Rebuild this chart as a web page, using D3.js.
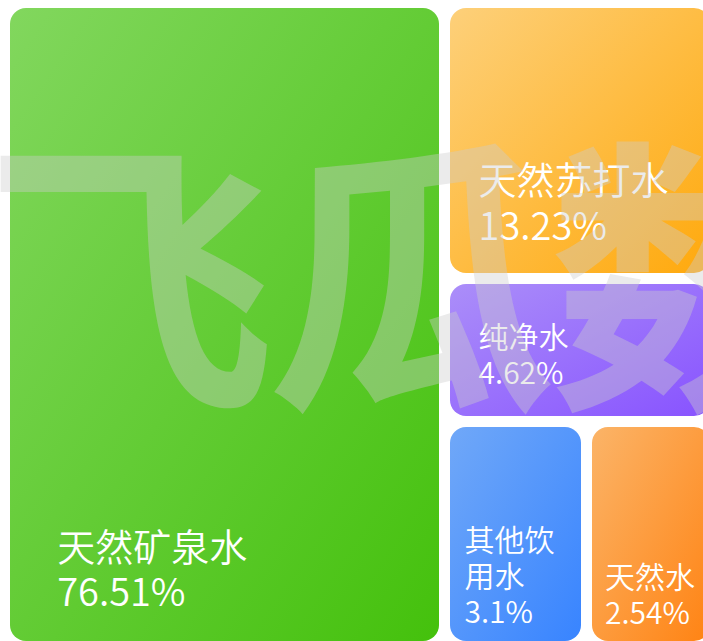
<!DOCTYPE html>
<html>
<head>
<meta charset="utf-8">
<script src="https://cdn.jsdelivr.net/npm/d3@7/dist/d3.min.js"></script>
<style>
  html, body { margin: 0; padding: 0; background: #fff; overflow: hidden; }
  svg { display: block; }
</style>
</head>
<body>
<div id="chart"></div>
<script>
// share of each drinking water type
const categories = ["天然矿泉水", "天然苏打水", "纯净水", "其他饮用水", "天然水"];
const shares = [76.51, 13.23, 4.62, 3.1, 2.54];
const colorFrom = ["#82d75e", "#fdd07a", "#ab8ef9", "#70a8f8", "#fbb468"];
const colorTo = ["#44c10c", "#ffa90c", "#8853ff", "#3884ff", "#ff8313"];
const watermark = "飞瓜数据";

const width = 703, height = 641;
const marginLeft = 10, marginTop = 8;
const mapW = 700, mapH = 633;

const svg = d3.select("#chart").append("svg")
    .attr("width", width)
    .attr("height", height);

const defs = svg.append("defs");

var data = categories.map((name, i) => ({name: name, value: shares[i], i: i}));

// tile area is compressed a bit so the small tiles stay readable
const areaScale = d3.scalePow().exponent(0.85).domain([0, 100]).range([2.1, 52.2]);

const root = d3.hierarchy({children: data})
    .sum(d => d.value === undefined ? 0 : areaScale(d.value));

d3.treemap()
    .tile(d3.treemapBinary)
    .size([mapW, mapH])
    .paddingInner(11)
    .round(true)(root);

data.forEach((d, i) => {
    const g = defs.append("linearGradient")
        .attr("id", "grad" + i)
        .attr("x1", 0).attr("y1", 0)
        .attr("x2", 1).attr("y2", 1);
    g.append("stop").attr("offset", "0%").attr("stop-color", colorFrom[i]);
    g.append("stop").attr("offset", "100%").attr("stop-color", colorTo[i]);
});

const cells = svg.append("g")
    .attr("transform", `translate(${marginLeft},${marginTop})`)
    .selectAll("g")
    .data(root.leaves())
    .enter().append("g")
    .attr("transform", d => `translate(${d.x0},${d.y0})`);

cells.append("rect")
    .attr("width", d => d.x1 - d.x0)
    .attr("height", d => d.y1 - d.y0)
    .attr("rx", 16)
    .attr("ry", 16)
    .attr("fill", d => `url(#grad${d.data.i})`);

// split a name into lines that fit the tile
function wrapName(name, maxWidth, fontSize) {
    const perLine = Math.max(1, Math.floor(maxWidth / fontSize));
    const lines = [];
    for (let k = 0; k < name.length; k += perLine) {
        lines.push(name.slice(k, k + perLine));
    }
    return lines;
}

cells.each(function(d) {
    const w = d.x1 - d.x0, h = d.y1 - d.y0;
    const fontSize = Math.min(w, h) > 200 ? 38 : 30;
    const lineH = fontSize * 1.2;
    const pad = w * 0.11;
    const bottomPad = Math.min(pad, 30);
    const lines = wrapName(d.data.name, w - pad - 8, fontSize);
    lines.push(d.data.value + "%");

    const text = d3.select(this).append("text")
        .attr("fill", "#fff")
        .attr("font-family", "'Noto Sans CJK SC', 'Noto Sans', sans-serif")
        .attr("font-weight", 350)
        .attr("font-size", fontSize);

    lines.forEach((line, k) => {
        text.append("tspan")
            .attr("x", pad)
            .attr("y", h - bottomPad - (lines.length - 1 - k) * lineH - fontSize * 0.12)
            .text(line);
    });
});

// faint watermark on top of everything
svg.append("text")
    .attr("x", -15)
    .attr("y", 388)
    .attr("font-family", "'Noto Sans CJK SC', sans-serif")
    .attr("font-weight", 700)
    .attr("font-size", 290)
    .attr("letter-spacing", -8)
    .attr("fill", "#cccccc")
    .attr("fill-opacity", 0.4)
    .text(watermark);
</script>
</body>
</html>
